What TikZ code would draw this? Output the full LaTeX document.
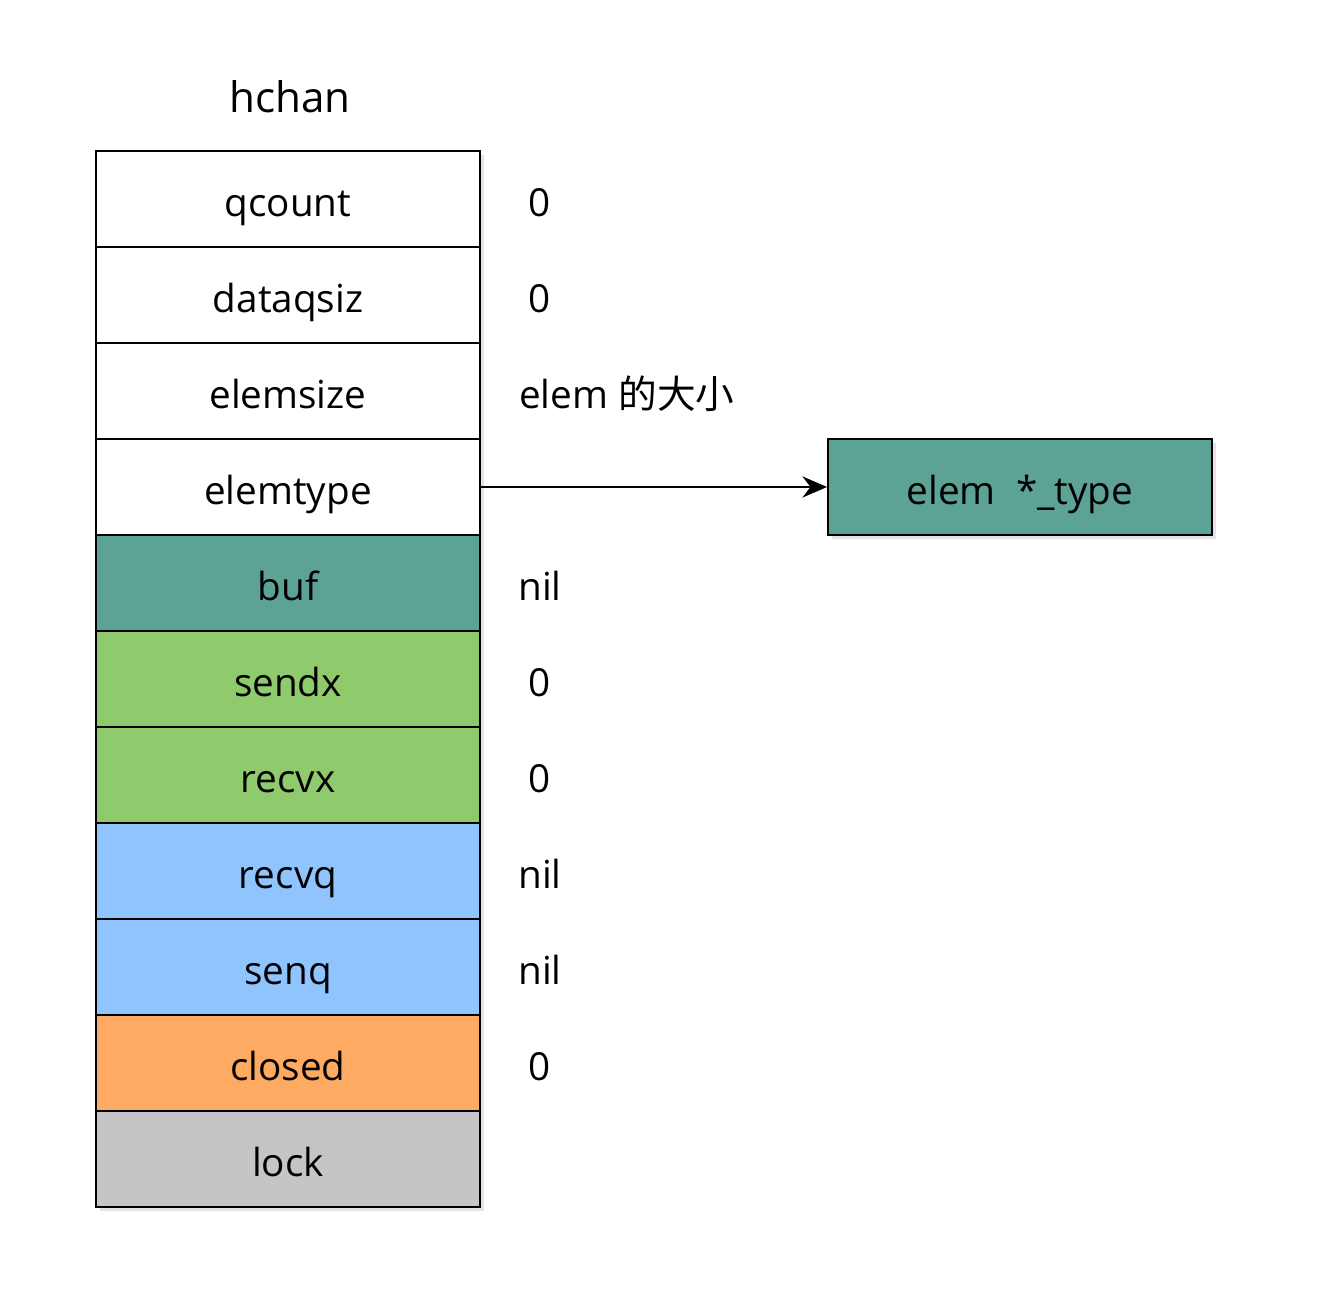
\documentclass[tikz,border=0pt]{standalone}
\usepackage{fontspec}
\setmainfont{Open Sans}
\newfontfamily\cjkfont{Noto Sans CJK SC}
\usetikzlibrary{arrows.meta,shadows}
\definecolor{tealbuf}{HTML}{5DA395}
\definecolor{greenidx}{HTML}{8FCA6C}
\definecolor{blueq}{HTML}{90C4FF}
\definecolor{orangecl}{HTML}{FFAA62}
\definecolor{graylock}{HTML}{C5C5C5}
\tikzset{%
  label/.style = {font=\fontsize{22}{24}\selectfont,%
                  text height=25.5pt, text depth=5.5pt},%
  field/.style = {label, shape=rectangle, draw, line width=1.1pt,%
                  minimum width=7.68cm, minimum height=1.92cm,%
                  fill=white,%
                  drop shadow={shadow xshift=0.08cm, shadow yshift=-0.08cm,%
                               fill=gray!60, opacity=0.35}},%
  value/.style = {label},%
  title/.style = {label, font=\fontsize{24}{26}\selectfont}%
}

\begin{document}
\begin{tikzpicture}[x=0.02cm,y=-0.02cm]
	\useasboundingbox (0,0) rectangle (1322,1290);
	\node [title] (hchan) at (290,95) {hchan};
	% fields of the struct
	\node [field] (qcount)   at (288,199)  {qcount};
	\node [field] (dataqsiz) at (288,295)  {dataqsiz};
	\node [field] (elemsize) at (288,391)  {elemsize};
	\node [field] (elemtype) at (288,487)  {elemtype};
	\node [field,fill=tealbuf]  (buf)    at (288,583)  {buf};
	\node [field,fill=greenidx] (sendx)  at (288,679)  {sendx};
	\node [field,fill=greenidx] (recvx)  at (288,775)  {recvx};
	\node [field,fill=blueq]    (recvq)  at (288,871)  {recvq};
	\node [field,fill=blueq]    (senq)   at (288,967)  {senq};
	\node [field,fill=orangecl] (closed) at (288,1063) {closed};
	\node [field,fill=graylock] (lock)   at (288,1159) {lock};
	% values
	\node [value] (vqcount)   at (540,199)  {0};
	\node [value] (vdataqsiz) at (540,295)  {0};
	\node [value,anchor=west] (velemsize) at (513,391) {elem {\cjkfont 的大小}};
	\node [value] (vbuf)      at (540,583)  {nil};
	\node [value] (vsendx)    at (540,679)  {0};
	\node [value] (vrecvx)    at (540,775)  {0};
	\node [value] (vrecvq)    at (540,871)  {nil};
	\node [value] (vsenq)     at (540,967)  {nil};
	\node [value] (vclosed)   at (540,1063) {0};
	% element type
	\node [field,fill=tealbuf] (etype) at (1020,487) {elem\ \ *\_type};
	\draw [line width=1.1pt,-{Stealth[length=14pt,width=12pt]}] (elemtype.east) -- (etype.west);
\end{tikzpicture}
\end{document}
